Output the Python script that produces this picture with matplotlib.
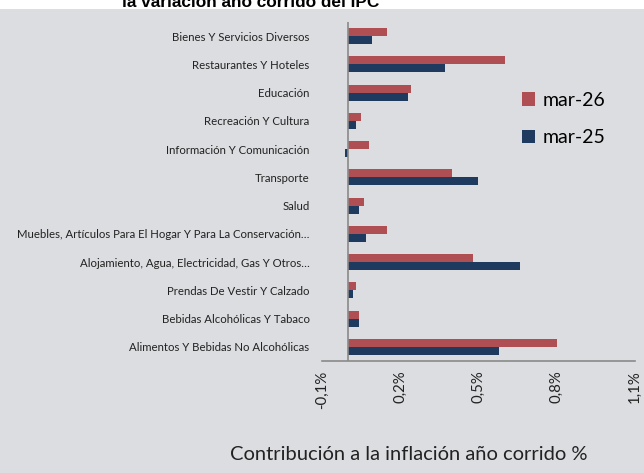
import numpy as np
import matplotlib.pyplot as plt

plt.rcParams['font.family'] = ['Lato', 'DejaVu Sans']

# categories listed bottom -> top
categorias = [
    'Alimentos Y Bebidas No Alcohólicas',
    'Bebidas Alcohólicas Y Tabaco',
    'Prendas De Vestir Y Calzado',
    'Alojamiento, Agua, Electricidad, Gas Y Otros…',
    'Muebles, Artículos Para El Hogar Y Para La Conservación…',
    'Salud',
    'Transporte',
    'Información Y Comunicación',
    'Recreación Y Cultura',
    'Educación',
    'Restaurantes Y Hoteles',
    'Bienes Y Servicios Diversos',
]
mar_26 = [0.80, 0.04, 0.03, 0.48, 0.15, 0.06, 0.40, 0.08, 0.05, 0.24, 0.60, 0.15]
mar_25 = [0.58, 0.04, 0.02, 0.66, 0.07, 0.04, 0.50, -0.01, 0.03, 0.23, 0.37, 0.09]
xticks = [-0.1, 0.2, 0.5, 0.8, 1.1]

bg = '#dcdde0'
rojo = '#b04f53'
azul = '#1f3a5f'

fig = plt.figure(figsize=(6.44, 4.73), dpi=100, facecolor=bg)
# white strip at the top where the cut title sits
fig.patches.append(plt.Rectangle((0, 0.98), 1, 0.03, transform=fig.transFigure,
                                 facecolor='white', edgecolor='none', zorder=0))
fig.text(0.39, 0.994, 'la variación año corrido del IPC', ha='center', va='center',
         fontsize=12.4, fontweight='bold', family=['Liberation Sans', 'DejaVu Sans'])

ax = fig.add_axes([0.5, 0.2368, 0.486, 0.7167])
ax.set_facecolor('none')

y = np.arange(len(categorias))
h = 0.28
ax.barh(y + h / 2, mar_26, height=h, color=rojo, label='mar-26')
ax.barh(y - h / 2, mar_25, height=h, color=azul, label='mar-25')

ax.axvline(0, color='#8a8a8a', lw=1.2)
ax.set_xlim(-0.1, 1.1)
ax.set_ylim(-0.5, 11.5)
ax.set_yticks(y)
ax.set_yticklabels(categorias, fontsize=8.2, color='#222222')
ax.set_xticks(xticks)
ax.set_xticklabels([f'{v:.1f}%'.replace('.', ',') for v in xticks],
                   rotation=90, fontsize=10.8, color='#222222')
ax.tick_params(axis='y', length=0, pad=9)
ax.tick_params(axis='x', length=0, pad=7)
for s in ['top', 'right', 'left']:
    ax.spines[s].set_visible(False)
ax.spines['bottom'].set_color('#8a8a8a')
ax.spines['bottom'].set_linewidth(1.2)

fig.text(0.634, 0.04, 'Contribución a la inflación año corrido %', ha='center',
         va='center', fontsize=14.5, color='#222222')

ax.legend(loc='upper left', bbox_to_anchor=(0.582, 0.845), frameon=False,
          fontsize=14, handlelength=0.7, handleheight=0.7, labelspacing=1.05,
          handletextpad=0.4)

fig.savefig('out.png', dpi=100, facecolor=bg)
